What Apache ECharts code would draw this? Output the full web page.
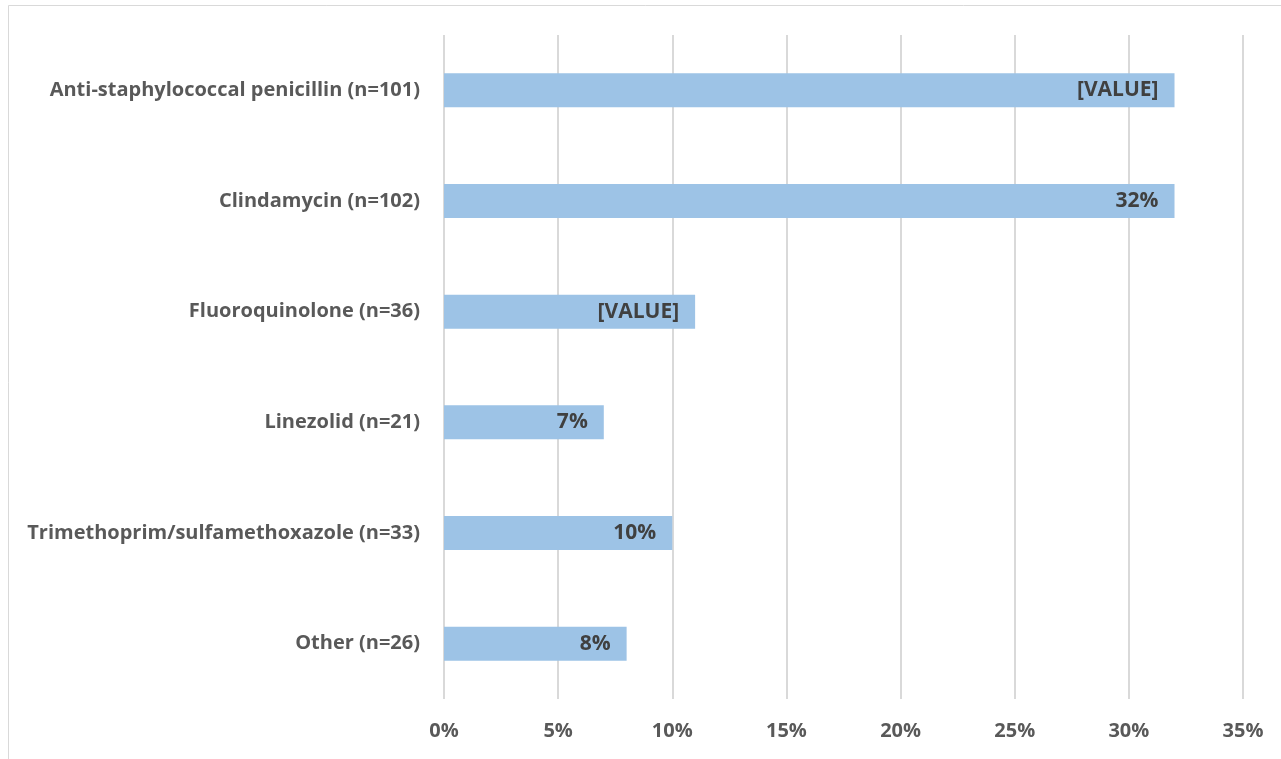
<!DOCTYPE html>
<html>
<head>
<meta charset="utf-8">
<script src="https://cdn.jsdelivr.net/npm/echarts@6/dist/echarts.min.js"></script>
<style>html,body{margin:0;padding:0;background:#fff}#c{width:1281px;height:759px}</style>
</head>
<body>
<div id="c"></div>
<script>
var categories = ['Anti-staphylococcal penicillin (n=101)', 'Clindamycin (n=102)', 'Fluoroquinolone (n=36)', 'Linezolid (n=21)', 'Trimethoprim/sulfamethoxazole (n=33)', 'Other (n=26)'];
var values = [32, 32, 11, 7, 10, 8];
var valueLabels = ['[VALUE]', '32%', '[VALUE]', '7%', '10%', '8%'];
var xTicks = [0, 5, 10, 15, 20, 25, 30, 35];

var chart = echarts.init(document.getElementById('c'), null, {renderer: 'canvas'});
var font = '"Open Sans", "Liberation Sans", sans-serif';
chart.setOption({
  animation: false,
  backgroundColor: '#fff',
  graphic: [{
    type: 'rect', shape: {x: 8.5, y: 5.5, width: 1290, height: 800},
    style: {fill: 'none', stroke: '#d9d9d9', lineWidth: 1}, silent: true
  }],
  grid: {left: 444, right: 38, top: 35, bottom: 60, containLabel: false},
  xAxis: {
    type: 'value', min: xTicks[0], max: xTicks[xTicks.length - 1], interval: 5,
    axisLine: {show: false}, axisTick: {show: false},
    splitLine: {show: true, lineStyle: {color: '#d9d9d9', width: 2}},
    axisLabel: {formatter: '{value}%', color: '#595959', fontFamily: font, fontWeight: 'bold', fontSize: 20, margin: 22}
  },
  yAxis: {
    type: 'category', data: categories, inverse: true,
    axisLine: {show: false}, axisTick: {show: false},
    axisLabel: {color: '#595959', fontFamily: font, fontWeight: 'bold', fontSize: 20, margin: 24}
  },
  series: [{
    type: 'bar', data: values, barWidth: 34,
    itemStyle: {color: '#9DC3E6'},
    label: {
      show: true, position: 'insideRight', distance: 16,
      color: '#404040', fontFamily: font, fontWeight: 'bold', fontSize: 21,
      formatter: function (p) { return valueLabels[p.dataIndex]; }
    }
  }]
});
</script>
</body>
</html>
